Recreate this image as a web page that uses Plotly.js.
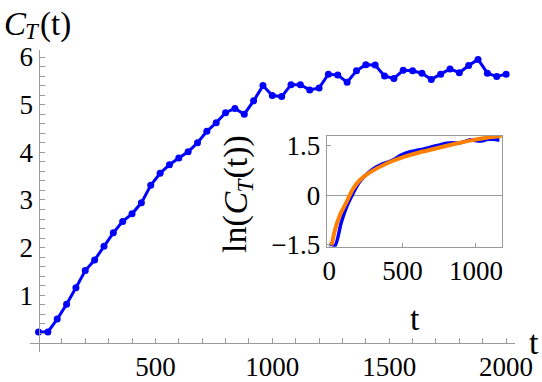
<!DOCTYPE html>
<html>
<head>
<meta charset="utf-8">
<script src="https://cdn.plot.ly/plotly-3.0.1.min.js"></script>
<style>
html,body{margin:0;padding:0;background:#fff}
#chart{width:542px;height:382px}
svg text{font-family:'Liberation Serif','Times New Roman',serif !important;}
</style>
</head>
<body>
<div id="chart"></div>
<script>
// Main series: C_T(t)
const tMain = [0,40,80,120,160,200,240,280,320,360,400,440,480,520,560,600,640,680,720,760,800,840,880,920,960,1000,1040,1080,1120,1160,1200,1240,1280,1320,1360,1400,1440,1480,1520,1560,1600,1640,1680,1720,1760,1800,1840,1880,1920,1960,2000];
const cMain = [0.23,0.23,0.50,0.81,1.16,1.52,1.74,2.03,2.31,2.55,2.71,2.94,3.31,3.56,3.74,3.88,4.01,4.20,4.44,4.62,4.83,4.92,4.80,5.08,5.40,5.19,5.17,5.42,5.42,5.31,5.35,5.64,5.62,5.47,5.71,5.84,5.83,5.60,5.55,5.72,5.71,5.66,5.53,5.64,5.75,5.67,5.82,5.95,5.66,5.59,5.64];

// Inset: ln(C_T(t)) data (blue) and fit (orange)
const tInset = [0,40,80,120,160,200,240,280,320,360,400,440,480,520,560,600,640,680,720,760,800,840,880,920,960,1000,1040,1080,1120,1160];
const lnInset = [-1.47,-1.52,-0.85,-0.33,0.04,0.36,0.57,0.73,0.85,0.94,1.00,1.08,1.19,1.27,1.32,1.36,1.39,1.44,1.49,1.53,1.57,1.59,1.57,1.62,1.68,1.65,1.64,1.69,1.69,1.66];
const tFit = [16,38,72,118,163,209,277,391,504,618,732,845,959,1073,1175];
const lnFit = [-1.52,-1.06,-0.61,-0.20,0.20,0.46,0.69,0.96,1.15,1.30,1.42,1.54,1.65,1.74,1.80];

// Tick labels
const xMainLabels = [500,1000,1500,2000];
const yMainLabels = [1,2,3,4,5,6];
const xInsetTicks = [0,500,1000];
const yInsetTicks = [-1.5,0,1.5];
const yInsetText = ['\u22121.5','0','1.5'];

const xMinorStep = 100, yMinorStep = 0.2;
const xMin = -36.4, xMax = 2038, yMin = -0.19, yMax = 6.147;

const xTickVals = [], xTickText = [];
for (let k = 1; k * xMinorStep <= xMax; k++) {
  const v = k * xMinorStep;
  xTickVals.push(v);
  xTickText.push(xMainLabels.includes(v) ? String(v) : '');
}
const yTickVals = [], yTickText = [];
for (let k = 1; k * yMinorStep <= yMax; k++) {
  const v = Math.round(k * yMinorStep * 10) / 10;
  yTickVals.push(v);
  yTickText.push(yMainLabels.includes(v) ? String(v) : '');
}

const FAM = 'Liberation Serif';
const LINEGRAY = '#9a9a9a';
const TF = () => ({family: FAM, size: 27, color: '#000'});

// pixel -> paper helpers (plot area: left 30, width 485; bottom 352, height 302)
const px = p => (p - 30) / 485;
const py = p => (352 - p) / 302;

function ann(text, x, y, size, italic, angle) {
  const a = {text: text, x: px(x), y: py(y), xref: 'paper', yref: 'paper',
    xanchor: 'center', yanchor: 'middle', showarrow: false,
    font: {family: FAM, size: size, color: '#000', style: italic ? 'italic' : 'normal'}};
  if (angle) a.textangle = angle;
  return a;
}

const traces = [
  {x: tMain, y: cMain, type: 'scatter', mode: 'lines+markers',
   line: {color: '#0000ff', width: 3}, marker: {color: '#0000ff', size: 7},
   xaxis: 'x', yaxis: 'y'},
  {x: tInset, y: lnInset, type: 'scatter', mode: 'lines', line: {color: '#0000ff', width: 3.5, shape: 'spline', smoothing: 0.6},
   xaxis: 'x2', yaxis: 'y2'},
  {x: tFit, y: lnFit, type: 'scatter', mode: 'lines', line: {color: '#ff8000', width: 4, shape: 'spline', smoothing: 0.8},
   xaxis: 'x2', yaxis: 'y2'}
];

const layout = {
  width: 542, height: 382,
  margin: {l: 30, r: 27, t: 50, b: 30},
  showlegend: false,
  font: {family: FAM, size: 27, color: '#000'},
  xaxis: {
    range: [xMin, xMax], anchor: 'free', position: (0 - yMin) / (yMax - yMin),
    showgrid: false, zeroline: false, showline: true, linecolor: LINEGRAY, linewidth: 1,
    tickmode: 'array', tickvals: xTickVals, ticktext: xTickText, tickangle: 0,
    ticks: 'inside', ticklen: 5, tickcolor: LINEGRAY, tickwidth: 1,
    tickfont: TF()
  },
  yaxis: {
    range: [yMin, yMax], anchor: 'free', position: (0 - xMin) / (xMax - xMin),
    showgrid: false, zeroline: false, showline: true, linecolor: LINEGRAY, linewidth: 1,
    tickmode: 'array', tickvals: yTickVals, ticktext: yTickText, tickangle: 0,
    ticks: 'inside', ticklen: 5, tickcolor: LINEGRAY, tickwidth: 1,
    tickfont: TF()
  },
  xaxis2: {
    domain: [0.6117, 0.9738], anchor: 'y2', range: [-18, 1180],
    showgrid: false, zeroline: false, showline: true, mirror: true, linecolor: LINEGRAY, linewidth: 1,
    tickmode: 'array', tickvals: xInsetTicks, tickangle: 0,
    ticks: 'inside', ticklen: 4, tickcolor: LINEGRAY,
    tickfont: TF()
  },
  yaxis2: {
    domain: [0.3487, 0.7162], anchor: 'x2', range: [-1.56, 1.80],
    showgrid: false, zeroline: true, zerolinecolor: LINEGRAY, zerolinewidth: 1,
    showline: true, mirror: true, linecolor: LINEGRAY, linewidth: 1,
    tickmode: 'array', tickvals: yInsetTicks, ticktext: yInsetText, tickangle: 0,
    ticks: 'inside', ticklen: 4, tickcolor: LINEGRAY,
    tickfont: TF()
  },
  annotations: [
    // main y label: C_T(t)
    ann('C', 15, 24, 33, true),
    ann('T', 32.5, 32, 23, true),
    ann('(t)', 55, 24, 33, false),
    // main x label
    ann('t', 534, 342, 34, false),
    // inset y label: ln(C_T(t)), rotated
    ann('ln(', 235, 234, 34, false, -90),
    ann('C', 235, 203.5, 34, true, -90),
    ann('T', 245, 185.5, 23, true, -90),
    ann('(t))', 235, 157.5, 34, false, -90),
    // inset x label
    ann('t', 415, 318, 34, false)
  ]
};

Plotly.newPlot('chart', traces, layout, {staticPlot: true});
</script>
</body>
</html>
